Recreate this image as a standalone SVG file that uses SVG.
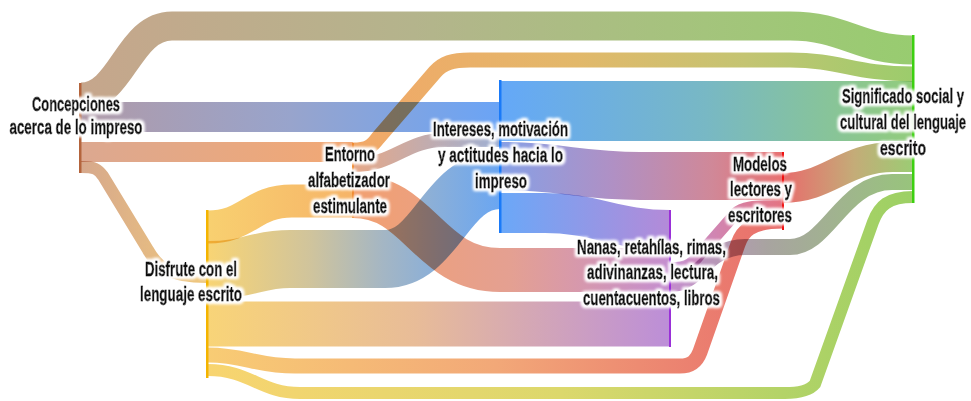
<svg xmlns="http://www.w3.org/2000/svg" width="971" height="401" viewBox="0 0 971 401">
<defs>
<style>
.f{fill:none;stroke-linecap:butt;mix-blend-mode:multiply}
.t{font-family:"Liberation Sans",Arial,sans-serif;font-weight:bold;font-size:20px;fill:#111;stroke:#111;stroke-width:0.8px;stroke-linejoin:round;text-anchor:middle;filter:url(#halo)}
</style>
<filter id="halo" x="-10%" y="-40%" width="120%" height="180%">
<feMorphology in="SourceAlpha" operator="dilate" radius="2" result="d"/>
<feGaussianBlur in="d" stdDeviation="1.8" result="b"/>
<feFlood flood-color="#ffffff"/>
<feComposite in2="b" operator="in" result="g"/>
<feMerge><feMergeNode in="g"/><feMergeNode in="g"/><feMergeNode in="SourceGraphic"/></feMerge>
</filter>
<linearGradient id="gF1" gradientUnits="userSpaceOnUse" x1="81" y1="0" x2="913" y2="0"><stop offset="0" stop-color="#c6a68c"/><stop offset="0.4" stop-color="#b4b48c"/><stop offset="0.75" stop-color="#a4c47c"/><stop offset="1" stop-color="#98cc70"/></linearGradient>
<linearGradient id="gF2" gradientUnits="userSpaceOnUse" x1="81" y1="0" x2="500" y2="0"><stop offset="0" stop-color="#b09aa8"/><stop offset="0.5" stop-color="#98a4cc"/><stop offset="1" stop-color="#6aa4f6"/></linearGradient>
<linearGradient id="gF3" gradientUnits="userSpaceOnUse" x1="81" y1="0" x2="353" y2="0"><stop offset="0" stop-color="#dca890"/><stop offset="1" stop-color="#f2a874"/></linearGradient>
<linearGradient id="gF4" gradientUnits="userSpaceOnUse" x1="81" y1="0" x2="207" y2="0"><stop offset="0" stop-color="#d6a88c"/><stop offset="1" stop-color="#f0c87c"/></linearGradient>
<linearGradient id="gF5" gradientUnits="userSpaceOnUse" x1="208" y1="0" x2="353" y2="0"><stop offset="0" stop-color="#f8d070"/><stop offset="1" stop-color="#f6b468"/></linearGradient>
<linearGradient id="gF6" gradientUnits="userSpaceOnUse" x1="208" y1="0" x2="500" y2="0"><stop offset="0" stop-color="#f8d474"/><stop offset="0.35" stop-color="#d0c49c"/><stop offset="0.6" stop-color="#a4b6c4"/><stop offset="1" stop-color="#6aa6f2"/></linearGradient>
<linearGradient id="gF7" gradientUnits="userSpaceOnUse" x1="353" y1="0" x2="913" y2="0"><stop offset="0" stop-color="#f2a868"/><stop offset="0.4" stop-color="#e2b86a"/><stop offset="0.7" stop-color="#c4c472"/><stop offset="1" stop-color="#9ccc6c"/></linearGradient>
<linearGradient id="gF8" gradientUnits="userSpaceOnUse" x1="353" y1="0" x2="500" y2="0"><stop offset="0" stop-color="#e6a888"/><stop offset="1" stop-color="#9eb0d4"/></linearGradient>
<linearGradient id="gF9" gradientUnits="userSpaceOnUse" x1="353" y1="0" x2="670" y2="0"><stop offset="0" stop-color="#f2a070"/><stop offset="0.5" stop-color="#e4a092"/><stop offset="1" stop-color="#c48ed0"/></linearGradient>
<linearGradient id="gF10" gradientUnits="userSpaceOnUse" x1="500" y1="0" x2="670" y2="0"><stop offset="0" stop-color="#6aa8f8"/><stop offset="1" stop-color="#b48ad8"/></linearGradient>
<linearGradient id="gF11" gradientUnits="userSpaceOnUse" x1="500" y1="0" x2="783" y2="0"><stop offset="0" stop-color="#86a0e6"/><stop offset="0.4" stop-color="#b090c4"/><stop offset="0.75" stop-color="#d08898"/><stop offset="1" stop-color="#e87070"/></linearGradient>
<linearGradient id="gF12" gradientUnits="userSpaceOnUse" x1="500" y1="0" x2="913" y2="0"><stop offset="0" stop-color="#64a8f8"/><stop offset="0.5" stop-color="#78b8c4"/><stop offset="1" stop-color="#92cc7c"/></linearGradient>
<linearGradient id="gF13" gradientUnits="userSpaceOnUse" x1="208" y1="0" x2="913" y2="0"><stop offset="0" stop-color="#f8d470"/><stop offset="0.5" stop-color="#dcd86c"/><stop offset="1" stop-color="#9cd064"/></linearGradient>
<linearGradient id="gF14" gradientUnits="userSpaceOnUse" x1="208" y1="0" x2="670" y2="0"><stop offset="0" stop-color="#f8d478"/><stop offset="0.45" stop-color="#e8bc98"/><stop offset="1" stop-color="#bc8ed8"/></linearGradient>
<linearGradient id="gF15" gradientUnits="userSpaceOnUse" x1="783" y1="0" x2="913" y2="0"><stop offset="0" stop-color="#e86c6c"/><stop offset="0.55" stop-color="#c4ac78"/><stop offset="1" stop-color="#9ccc74"/></linearGradient>
<linearGradient id="gF16" gradientUnits="userSpaceOnUse" x1="671" y1="0" x2="913" y2="0"><stop offset="0" stop-color="#c48ccc"/><stop offset="0.4" stop-color="#a8a4a0"/><stop offset="1" stop-color="#98c47c"/></linearGradient>
<linearGradient id="gF17" gradientUnits="userSpaceOnUse" x1="208" y1="0" x2="783" y2="0"><stop offset="0" stop-color="#f8cc74"/><stop offset="0.5" stop-color="#f2a878"/><stop offset="1" stop-color="#e86e6c"/></linearGradient>
<linearGradient id="gF18" gradientUnits="userSpaceOnUse" x1="671" y1="0" x2="783" y2="0"><stop offset="0" stop-color="#c490d0"/><stop offset="1" stop-color="#e47482"/></linearGradient>
</defs>
<rect width="971" height="401" fill="#ffffff"/>
<g id="connectors">
<path class="f" stroke="url(#gF1)" stroke-width="29" d="M81,97 C122,97 128,26 172,26 L790,26 C845,26 858,50 913,50"/>
<path class="f" stroke="url(#gF2)" stroke-width="30" d="M81,117 L500,117"/>
<path class="f" stroke="url(#gF3)" stroke-width="20" d="M81,152 L353,152"/>
<path class="f" stroke="url(#gF4)" stroke-width="12" d="M81,167 C95,167 98,169 103,176 L148,250 C157,266 168,277 207,277"/>
<path class="f" stroke="url(#gF12)" stroke-width="60" d="M500,111 L913,111"/>
<path class="f" stroke="url(#gF14)" stroke-width="45" d="M208,324 L670,324"/>
<path class="f" stroke="url(#gF13)" stroke-width="12" d="M208,370 C250,370 260,393 300,393 L785,393 C800,393 810,390 815,384 L873,222 C879,206 888,197 913,197"/>
<path class="f" stroke="url(#gF17)" stroke-width="15" d="M208,355 C245,355 255,366 295,366 L680,366 C692,366 697,360 700,352 L738,244 C742,232 750,221 783,221"/>
<path class="f" stroke="url(#gF5)" stroke-width="33" d="M208,227 C248,227 252,201 292,201 L353,201"/>
<path class="f" stroke="url(#gF6)" stroke-width="58" d="M208,270 C250,270 255,259 290,259 L385,259 C437,259 445,180 500,180"/>
<path class="f" stroke="url(#gF9)" stroke-width="44" d="M353,196 C420,196 428,270 500,270 L670,270"/>
<path class="f" stroke="url(#gF7)" stroke-width="15" d="M353,150 C368,150 372,146 378,138 L435,72 C443,63 452,60 470,60 L790,60 C840,60 855,74 913,74"/>
<path class="f" stroke="url(#gF8)" stroke-width="14" d="M353,165 C395,165 405,140 445,140 L500,140"/>
<path class="f" stroke="url(#gF11)" stroke-width="48" d="M500,166 C560,166 580,176 640,176 L783,176"/>
<path class="f" stroke="url(#gF10)" stroke-width="40" d="M500,213 L545,213 C595,213 615,230 670,230"/>
<path class="f" stroke="url(#gF18)" stroke-width="12" d="M671,268 C688,268 693,263 700,254 L735,214 C742,207 752,206 783,206"/>
<path class="f" stroke="url(#gF16)" stroke-width="16" d="M671,284 C700,284 705,247 745,247 L790,247 C828,247 842,182 892,182 L913,182"/>
<path class="f" stroke="url(#gF15)" stroke-width="30" d="M783,188 C828,188 845,157 893,157 L913,157"/>
</g>
<g id="concepciones">
<rect x="79" y="83" width="2.5" height="90" fill="#b4643c"/>
<text class="t" x="76" y="111" textLength="88" lengthAdjust="spacingAndGlyphs">Concepciones</text>
<text class="t" x="76" y="134" textLength="133" lengthAdjust="spacingAndGlyphs">acerca de lo impreso</text>
</g>
<g id="disfrute">
<rect x="206" y="210" width="2.5" height="168" fill="#f4b400"/>
<text class="t" x="191" y="276" textLength="92" lengthAdjust="spacingAndGlyphs">Disfrute con el</text>
<text class="t" x="191" y="301" textLength="102" lengthAdjust="spacingAndGlyphs">lenguaje escrito</text>
</g>
<g id="entorno">
<rect x="352" y="143" width="2" height="75" fill="#f08a30"/>
<text class="t" x="350" y="161" textLength="50" lengthAdjust="spacingAndGlyphs">Entorno</text>
<text class="t" x="349" y="187" textLength="82" lengthAdjust="spacingAndGlyphs">alfabetizador</text>
<text class="t" x="350" y="213" textLength="74" lengthAdjust="spacingAndGlyphs">estimulante</text>
</g>
<g id="intereses">
<rect x="499" y="80" width="2.5" height="153" fill="#1a7af8"/>
<text class="t" x="500.5" y="136" textLength="135" lengthAdjust="spacingAndGlyphs">Intereses, motivación</text>
<text class="t" x="500.5" y="162" textLength="125" lengthAdjust="spacingAndGlyphs">y actitudes hacia lo</text>
<text class="t" x="501" y="188" textLength="52" lengthAdjust="spacingAndGlyphs">impreso</text>
</g>
<g id="nanas">
<rect x="669" y="210" width="2" height="137" fill="#9a30d8"/>
<text class="t" x="651.5" y="254" textLength="149" lengthAdjust="spacingAndGlyphs">Nanas, retahílas, rimas,</text>
<text class="t" x="652.5" y="279" textLength="131" lengthAdjust="spacingAndGlyphs">adivinanzas, lectura,</text>
<text class="t" x="651.5" y="305" textLength="137" lengthAdjust="spacingAndGlyphs">cuentacuentos, libros</text>
</g>
<g id="modelos">
<rect x="782" y="152" width="2" height="78" fill="#f01010"/>
<text class="t" x="760" y="171" textLength="54" lengthAdjust="spacingAndGlyphs">Modelos</text>
<text class="t" x="761" y="196" textLength="62" lengthAdjust="spacingAndGlyphs">lectores y</text>
<text class="t" x="760" y="222" textLength="64" lengthAdjust="spacingAndGlyphs">escritores</text>
</g>
<g id="significado">
<rect x="912" y="35" width="2.5" height="168" fill="#3cd010"/>
<text class="t" x="903" y="103" textLength="122" lengthAdjust="spacingAndGlyphs">Significado  social y</text>
<text class="t" x="903" y="129" textLength="126" lengthAdjust="spacingAndGlyphs">cultural del lenguaje</text>
<text class="t" x="903" y="155" textLength="46" lengthAdjust="spacingAndGlyphs">escrito</text>
</g>
</svg>
